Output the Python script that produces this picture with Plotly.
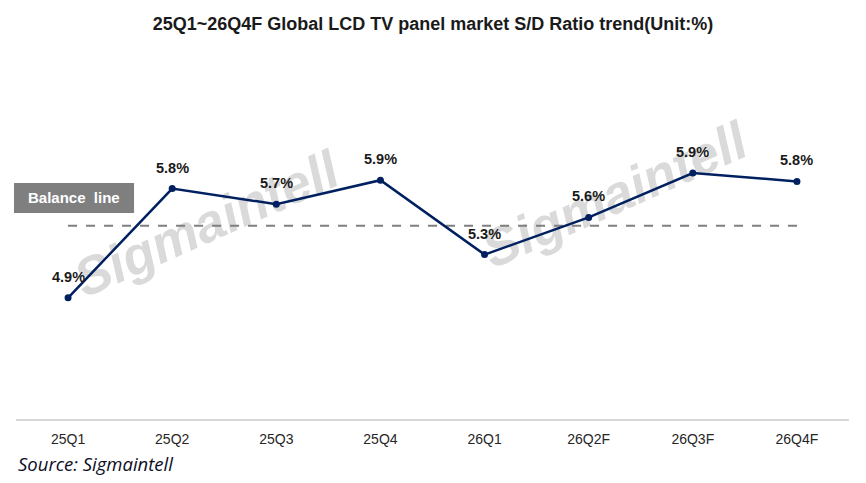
import plotly.graph_objects as go

categories = ["25Q1", "25Q2", "25Q3", "25Q4", "26Q1", "26Q2F", "26Q3F", "26Q4F"]
sd_ratio = [4.91, 5.82, 5.69, 5.89, 5.27, 5.58, 5.95, 5.88]
value_labels = ["4.9%", "5.8%", "5.7%", "5.9%", "5.3%", "5.6%", "5.9%", "5.8%"]
balance_value = 5.51

title_text = "25Q1~26Q4F Global LCD TV panel market S/D Ratio trend(Unit:%)"
source_text = "Source: Sigmaintell"
watermark = "Sigmaintell"

fig = go.Figure()
fig.add_trace(go.Scatter(
    x=categories, y=sd_ratio, mode="lines+markers",
    line=dict(color="#002060", width=2.5),
    marker=dict(color="#002060", size=7),
    hoverinfo="skip", showlegend=False,
))

# balance line
fig.add_shape(type="line", xref="x", yref="y",
              x0=categories[0], x1=categories[-1], y0=balance_value, y1=balance_value,
              line=dict(color="#7f7f7f", width=2, dash="dash"), layer="below")

# watermarks (below traces)
for cx, cy in [(0.226, 0.557), (0.716, 0.638)]:
    fig.add_shape(type="rect", xref="paper", yref="paper",
                  x0=cx - 0.05, x1=cx + 0.05, y0=cy - 0.05, y1=cy + 0.05,
                  line=dict(width=0), fillcolor="rgba(0,0,0,0)", layer="below",
                  label=dict(text="<b><i>" + watermark + "</i></b>", textangle=-24,
                             textposition="middle center",
                             font=dict(family="Liberation Sans", size=53, color="#dadada")))

# balance line label box
fig.add_shape(type="rect", xref="paper", yref="paper",
              x0=-0.0024, x1=0.1417, y0=0.5738, y1=0.6574,
              line=dict(width=0), fillcolor="#7f7f7f", layer="above")
fig.add_annotation(xref="paper", yref="paper", x=0.0696, y=0.6156,
                   text="<b>Balance\u00a0 line</b>", showarrow=False,
                   font=dict(family="Liberation Sans", size=15, color="white"),
                   xanchor="center", yanchor="middle")

# data labels
for c, v, t in zip(categories, sd_ratio, value_labels):
    fig.add_annotation(x=c, y=v, xref="x", yref="y", text="<b>" + t + "</b>",
                       showarrow=False, yshift=21, yanchor="middle",
                       font=dict(family="Liberation Sans", size=14.5, color="#1a1a1a"))

# source
fig.add_annotation(xref="paper", yref="paper", x=0.0, y=-0.123, xanchor="left",
                   yanchor="middle", text="<i>" + source_text + "</i>", showarrow=False,
                   font=dict(family="Open Sans", size=18.5, color="#0d0d26"))

fig.update_layout(
    width=866, height=483,
    margin=dict(l=16, r=17, t=60, b=64),
    paper_bgcolor="white", plot_bgcolor="white",
    title=dict(text="<b>" + title_text + "</b>", x=0.5, xref="container",
               y=1 - 24 / 483, yref="container", xanchor="center", yanchor="middle",
               font=dict(family="Liberation Sans", size=18, color="#1a1a1a")),
    xaxis=dict(type="category", range=[-0.5, 7.5], showline=True, linecolor="#d9d9d9",
               linewidth=2, showgrid=False, zeroline=False, ticks="outside", ticklen=6,
               tickcolor="rgba(0,0,0,0)",
               tickfont=dict(family="Liberation Sans", size=14, color="#262626")),
    yaxis=dict(range=[3.9, 6.8917], visible=False, showgrid=False, zeroline=False),
)

fig.write_html("out.html")
